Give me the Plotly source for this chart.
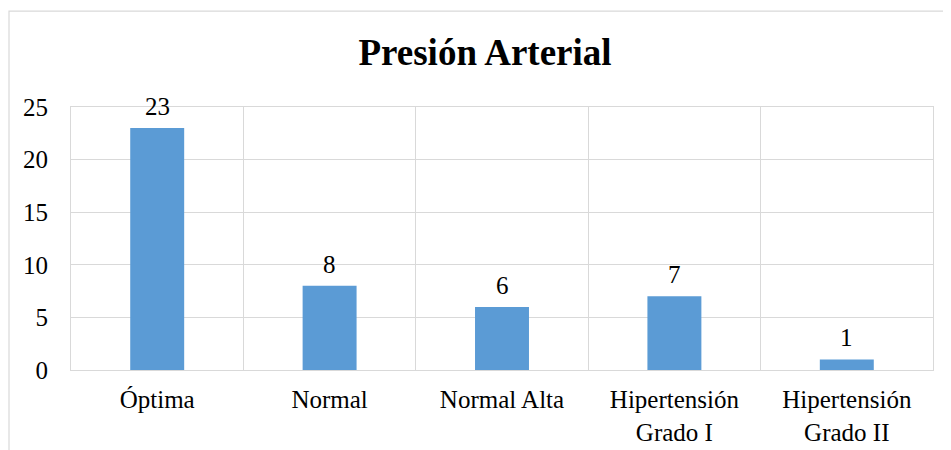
import plotly.graph_objects as go

categories = ["Óptima", "Normal", "Normal Alta", "Hipertensión<br>Grado I", "Hipertensión<br>Grado II"]
values = [23, 8, 6, 7, 1]
y_ticks = [0, 5, 10, 15, 20, 25]
title_text = "Presión Arterial"

FONT = "Liberation Serif, Times New Roman, serif"
GRID = "#d9d9d9"
W, H = 951, 450
L, T, R, B = 63, 99, 26, 85

fig = go.Figure()
fig.add_trace(go.Bar(x=categories, y=values, marker=dict(color="#5b9bd5", line=dict(width=0)),
                     hoverinfo="skip"))

for c, v in zip(categories, values):
    fig.add_annotation(x=c, y=v, text=str(v), showarrow=False, yanchor="bottom",
                       yshift=6, font=dict(family=FONT, size=25, color="#000000"))

pw, ph = W - L - R, H - T - B
fig.add_shape(type="rect", xref="paper", yref="paper",
              x0=(1 - L) / pw, x1=1.2, y0=-0.5, y1=(H - B - 2) / ph,
              line=dict(color=GRID, width=1.2), fillcolor="rgba(0,0,0,0)", layer="below")

fig.update_layout(
    width=W, height=H,
    margin=dict(l=L, r=R, t=T, b=B),
    paper_bgcolor="white", plot_bgcolor="white",
    bargap=0.687,
    showlegend=False,
    font=dict(family=FONT, size=25, color="#000000"),
    title=dict(text="<b>" + title_text + "</b>", x=477 / W, xref="container", xanchor="center",
               y=1 - 44 / H, yref="container", yanchor="middle",
               font=dict(family=FONT, size=37, color="#000000")),
    xaxis=dict(type="category", tickson="boundaries", showgrid=True, gridcolor=GRID, gridwidth=1.2,
               ticks="", showline=True, linecolor=GRID, linewidth=1.2, mirror=True,
               ticklabelstandoff=7, tickfont=dict(family=FONT, size=25, color="#000000")),
    yaxis=dict(range=[0, 25], tickvals=y_ticks, showgrid=True, gridcolor=GRID, gridwidth=1.2,
               zeroline=True, zerolinecolor=GRID, zerolinewidth=1.2,
               showline=True, linecolor=GRID, linewidth=1.2, mirror=True, ticks="",
               ticklabelstandoff=17, tickfont=dict(family=FONT, size=25, color="#000000")),
)

fig.write_html("out.html")
